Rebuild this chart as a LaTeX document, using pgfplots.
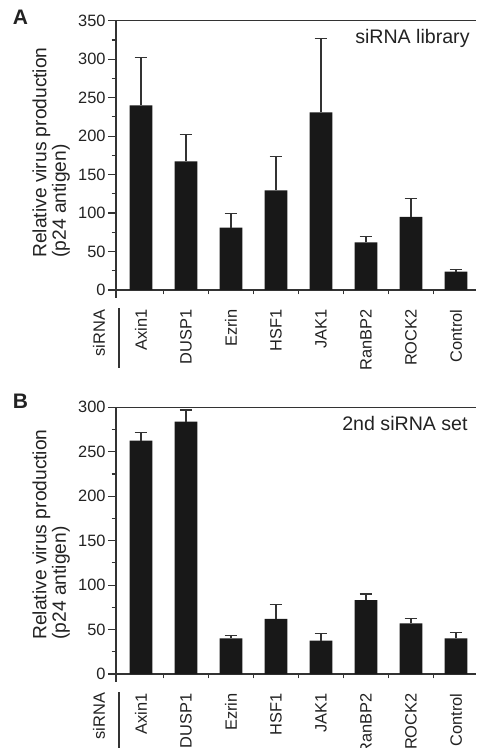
\documentclass[border=0pt]{standalone}
\usepackage{pgfplots}
\pgfplotsset{compat=1.18}
\usepackage{pgfplotstable}
\usepackage{fontspec}
\setmainfont{Liberation Sans}
\definecolor{barc}{HTML}{181818}
\definecolor{txt}{HTML}{222222}
\definecolor{ln}{HTML}{333333}

\pgfplotstableread{
x y e
0 240 62
1 167 35
2 81 18
3 129.5 43.5
4 231 96
5 62 7
6 95 24
7 24 3
}\dataA
\pgfplotstableread{
x y e
0 262.5 9
1 284 13
2 40 3.5
3 62 16
4 37.5 8
5 83 7
6 57 5
7 40 7
}\dataB

\pgfplotsset{
  panel/.style={
    scale only axis,
    width=180pt,
    xmin=-0.5556, xmax=7.4444,
    ymin=0,
    axis x line*=bottom,
    axis y line*=left,
    axis line style={ln, line width=0.6pt},
    tick align=outside,
    tick pos=left,
    xtick={0,...,7},
    xticklabels={Axin1,DUSP1,Ezrin,HSF1,JAK1,RanBP2,ROCK2,Control},
    minor xtick={0.5,1.5,...,6.5},
    major x tick style={draw=none},
    ytick distance=50,
    minor y tick num=1,
    major tick length=4pt,
    minor tick length=2.2pt,
    every tick/.style={ln, line width=0.6pt},
    tick label style={font=\fontsize{8.2}{9}\selectfont, text=txt},
    /pgf/number format/assume math mode=true,
    xticklabel style={rotate=90, anchor=east, inner sep=0pt, xshift=-5.5pt},
    yticklabel style={inner sep=1pt},
    clip=false,
  },
  bars/.style={
    ybar, bar width=0.51, fill=barc, draw=none,
    error bars/.cd, y dir=plus, y explicit,
    error mark=|,
    error bar style={ln, line width=0.55pt},
    error mark options={ln, line width=0.55pt, mark size=3.2pt},
  },
}

\begin{document}
\begin{tikzpicture}
\begin{axis}[panel, at={(58pt,-10.35pt)}, anchor=north west, height=134.65pt, ymax=350]
\addplot[bars] table[x=x, y=y, y error=e] {\dataA};
\draw[ln, line width=0.6pt] (rel axis cs:0,1) -- (rel axis cs:1,1);
\draw[ln, line width=0.6pt] (rel axis cs:0,0) -- ([yshift=-4pt]rel axis cs:0,0);
\end{axis}
\begin{axis}[panel, at={(58pt,-203.65pt)}, anchor=north west, height=133.35pt, ymax=300]
\addplot[bars] table[x=x, y=y, y error=e] {\dataB};
\draw[ln, line width=0.6pt] (rel axis cs:0,1) -- (rel axis cs:1,1);
\draw[ln, line width=0.6pt] (rel axis cs:0,0) -- ([yshift=-4pt]rel axis cs:0,0);
\end{axis}

% panel letters
\node[font=\fontsize{10.5}{12}\bfseries, text=txt, inner sep=0pt] at (10.25pt,-8.75pt) {A};
\node[font=\fontsize{10.5}{12}\bfseries, text=txt, inner sep=0pt] at (10.25pt,-200.75pt) {B};
% y labels
\node[rotate=90, anchor=north west, align=left, inner sep=0pt, text=txt,
      font=\fontsize{9.6}{9.8}\selectfont] at (16pt,-129pt)
      {Relative virus production\\(p24 antigen)};
\node[rotate=90, anchor=north west, align=left, inner sep=0pt, text=txt,
      font=\fontsize{9.6}{9.8}\selectfont] at (16pt,-320pt)
      {Relative virus production\\(p24 antigen)};
% annotations
\node[anchor=east, inner sep=0pt, text=txt, font=\fontsize{9.8}{11}\selectfont] at (235pt,-19pt) {siRNA library};
\node[anchor=east, inner sep=0pt, text=txt, font=\fontsize{9.8}{11}\selectfont] at (234pt,-211.75pt) {2nd siRNA set};
% siRNA row labels
\node[rotate=90, inner sep=0pt, text=txt, font=\fontsize{8.2}{9}\selectfont] at (49.5pt,-166.5pt) {siRNA};
\node[rotate=90, inner sep=0pt, text=txt, font=\fontsize{8.2}{9}\selectfont] at (49.5pt,-358pt) {siRNA};
\draw[ln, line width=0.6pt] (59.5pt,-154pt) -- (59.5pt,-184pt);
\draw[ln, line width=0.6pt] (59.5pt,-346pt) -- (59.5pt,-380pt);

\pgfresetboundingbox
\path[use as bounding box] (0pt,0pt) rectangle (238pt,-374pt);
\end{tikzpicture}
\end{document}
